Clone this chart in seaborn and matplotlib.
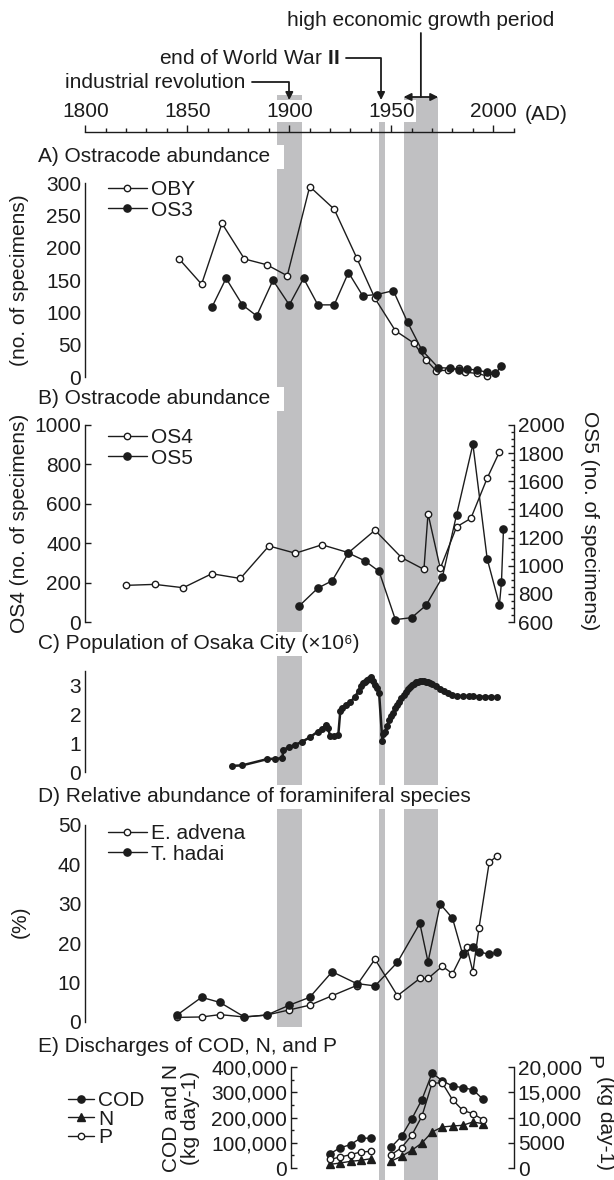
"""
Timeline of ostracode / foraminifera records vs. Osaka history
"""
import numpy as np
import pandas as pd
import matplotlib
matplotlib.use('Agg')
import matplotlib.pyplot as plt
import seaborn as sns
from matplotlib.ticker import MultipleLocator, FixedLocator

# ---- shaded periods (AD) ----
industrial = [1894, 1906]
ww2 = [1944, 1947]
growth = [1956, 1973]
ww2_end = 1945

# ---- A) Ostracode abundance ----
oby_year = [1846, 1857, 1867, 1878, 1889, 1899, 1910, 1922, 1933, 1942, 1952,
            1961, 1967, 1972, 1978, 1983, 1986, 1992, 1997, 2001]
oby_val = [183, 144, 238, 183, 174, 157, 295, 260, 185, 122, 72,
           53, 27, 10, 11, 14, 8, 6, 2, 7]
os3_year = [1862, 1869, 1877, 1884, 1892, 1900, 1907, 1914, 1922, 1929, 1936,
            1943, 1951, 1958, 1965, 1973, 1979, 1983, 1987, 1992, 1997, 2001, 2004]
os3_val = [108, 153, 112, 95, 150, 112, 153, 112, 112, 162, 126,
           128, 134, 85, 42, 15, 14, 12, 13, 11, 8, 6, 17]

# ---- B) Ostracode abundance ----
os4_year = [1820, 1834, 1848, 1862, 1876, 1890, 1903, 1916, 1929, 1942, 1955,
            1966, 1968, 1974, 1982, 1989, 1997, 2003]
os4_val = [186, 191, 174, 245, 221, 386, 349, 392, 352, 466, 327,
           267, 550, 272, 483, 526, 730, 863]
os5_year = [1905, 1914, 1921, 1929, 1937, 1944, 1952, 1960, 1967, 1975, 1982,
            1990, 1997, 2003, 2004, 2005]
os5_val = [716, 841, 893, 1090, 1035, 960, 617, 631, 718, 917, 1362,
           1863, 1049, 723, 881, 1262]

# ---- C) Population of Osaka City (x10^6) ----
pop_year = [1872, 1877, 1889, 1893, 1896.6, 1897, 1900, 1903, 1906, 1910, 1914,
            1916, 1918, 1919, 1920, 1922, 1924, 1925, 1926, 1928, 1930, 1932,
            1934, 1935, 1936, 1937, 1938, 1939, 1940, 1941, 1942, 1943, 1944,
            1945.6, 1946, 1947, 1948, 1949, 1950, 1951, 1952, 1953, 1954, 1955,
            1956, 1957, 1958, 1959, 1960, 1961, 1962, 1963, 1964, 1965, 1966,
            1967, 1968, 1969, 1970, 1972, 1974, 1976, 1978, 1980, 1982, 1985,
            1988, 1990, 1993, 1996, 1999, 2002]
pop_val = [0.22, 0.24, 0.45, 0.47, 0.48, 0.77, 0.87, 0.95, 1.04, 1.20, 1.40,
           1.50, 1.62, 1.51, 1.25, 1.25, 1.27, 2.11, 2.20, 2.30, 2.42, 2.58,
           2.80, 2.95, 3.06, 3.12, 3.18, 3.22, 3.26, 3.15, 3.00, 2.90, 2.74,
           1.09, 1.30, 1.40, 1.60, 1.80, 1.95, 2.05, 2.20, 2.30, 2.42, 2.55,
           2.65, 2.75, 2.85, 2.92, 3.00, 3.05, 3.10, 3.12, 3.14, 3.15, 3.14,
           3.12, 3.09, 3.06, 3.02, 2.95, 2.86, 2.78, 2.71, 2.66, 2.63, 2.62,
           2.63, 2.62, 2.60, 2.60, 2.60, 2.58]

# ---- D) Relative abundance of foraminiferal species (%) ----
adv_year = [1845, 1857, 1866, 1878, 1889, 1900, 1910, 1921, 1933, 1942, 1953,
            1964, 1968, 1975, 1980, 1985, 1987, 1990, 1993, 1998, 2002]
adv_val = [1.1, 1.2, 1.8, 1.2, 1.7, 3.0, 4.2, 6.6, 9.2, 15.9, 6.6,
           11.0, 11.0, 14.1, 12.2, 17.4, 19.0, 12.7, 23.9, 40.5, 42.2]
had_year = [1845, 1857, 1866, 1878, 1889, 1900, 1910, 1921, 1933, 1942, 1953,
            1964, 1968, 1974, 1980, 1985, 1990, 1993, 1998, 2002]
had_val = [1.7, 6.2, 4.9, 1.2, 1.7, 4.2, 6.2, 12.7, 9.7, 9.1, 15.1,
           25.0, 15.2, 29.9, 26.3, 17.1, 19.1, 17.8, 17.1, 17.7]

# ---- E) Discharges of COD, N and P (kg day-1) ----
dis_year = [1920, 1925, 1930, 1935, 1940, 1950, 1955, 1960, 1965, 1970,
            1975, 1980, 1985, 1990, 1995]
dis_seg = [0, 0, 0, 0, 0, 1, 1, 1, 1, 1, 1, 1, 1, 1, 1]
cod_val = [56700, 80400, 92300, 118800, 117600, 83200, 125400, 194000, 270600,
           376000, 345000, 325000, 318000, 310000, 272000]
n_val = [14500, 19800, 26400, 30400, 36800, 27700, 46300, 70000, 99000,
         142600, 162400, 166300, 169100, 182200, 175400]
p_val = [1720, 2180, 2640, 3170, 3300, 2640, 4020, 6470, 10240, 16830,
         16830, 13530, 11420, 10760, 9570]

left_ticks_e = [0, 100000, 200000, 300000, 400000]
left_labels_e = ['0', '100,000', '200,000', '300,000', '400,000']
right_ticks_e = [0, 5000, 10000, 15000, 20000]
right_labels_e = ['0', '5000', '10,000', '15,000', '20,000']

# ---- style ----
INK = '#1c1c1c'
BAND = '#c0c0c2'
FS = 15
LW = 1.0

W_PX, H_PX = 614, 1180
X0, PPY = 85.3, 2.04          # pixel of year 1800, pixels per year
YR0, YR1 = 1800, 2010

sns.set_theme(style='white')
plt.rcParams['font.family'] = ['Liberation Sans', 'DejaVu Sans']
plt.rcParams.update({
    'text.color': INK, 'axes.edgecolor': INK, 'axes.labelcolor': INK,
    'xtick.color': INK, 'ytick.color': INK, 'axes.linewidth': 1.0,
    'mathtext.fontset': 'custom', 'mathtext.rm': 'Liberation Sans',
    'mathtext.bf': 'Liberation Sans:bold',
})


def yr(px):
    return YR0 + (px - X0) / PPY


fig = plt.figure(figsize=(W_PX / 100, H_PX / 100), dpi=100)
fig.patch.set_facecolor('white')

# background axes: time axis + shaded periods, y in pixel rows
bg = fig.add_axes([X0 / W_PX, 0, (YR1 - YR0) * PPY / W_PX, 1])
bg.set_xlim(YR0, YR1)
bg.set_ylim(H_PX, 0)
bg.patch.set_visible(False)
bg.set_zorder(0)
for s in ['left', 'right', 'bottom']:
    bg.spines[s].set_visible(False)
bg.spines['top'].set_position(('data', 132))
bg.xaxis.tick_top()
bg.set_yticks([])
bg.set_xticks(range(1800, 2001, 50))
bg.xaxis.set_minor_locator(MultipleLocator(10))
bg.tick_params(axis='x', which='major', direction='out', length=5, width=1,
               labelsize=FS, pad=3)
bg.tick_params(axis='x', which='minor', direction='out', length=3, width=1)
for t in bg.get_xticklabels():
    t.set_bbox(dict(facecolor='white', edgecolor='none', pad=1))
bg.text(yr(525), 120.5, '(AD)', fontsize=FS, ha='left', va='baseline')

bg.fill_betweenx([95, 1027], industrial[0], industrial[1], color=BAND, lw=0, zorder=0)
bg.fill_betweenx([101, H_PX], ww2[0], ww2[1], color=BAND, lw=0, zorder=0)
bg.fill_betweenx([97, H_PX], growth[0], growth[1], color=BAND, lw=0, zorder=0)

akw = dict(arrowstyle='-|>', color=INK, lw=1.3, mutation_scale=11,
           shrinkA=3, shrinkB=0)
bg.annotate('industrial revolution', xy=(1900, 100), xytext=(yr(245), 82),
            ha='right', va='center', fontsize=FS,
            arrowprops=dict(connectionstyle='angle,angleA=0,angleB=90,rad=0', **akw))
bg.annotate(r'end of World War $\mathbf{II}$', xy=(ww2_end, 100), xytext=(yr(339), 58),
            ha='right', va='center', fontsize=FS,
            arrowprops=dict(connectionstyle='angle,angleA=0,angleB=90,rad=0', **akw))
mid = (growth[0] + growth[1]) / 2
bg.text(mid, 21, 'high economic growth period', ha='center', va='center', fontsize=FS)
bg.annotate('', xy=(mid, 97), xytext=(mid, 33),
            arrowprops=dict(arrowstyle='-', color=INK, lw=1.3, shrinkA=0, shrinkB=0))
bg.annotate('', xy=(growth[0], 97), xytext=(growth[1], 97),
            arrowprops=dict(arrowstyle='<|-|>', color=INK, lw=1.3, mutation_scale=11,
                            shrinkA=0, shrinkB=0))


def panel(top_px, bottom_px, x_start=YR0):
    left = (X0 + (x_start - YR0) * PPY) / W_PX
    width = (YR1 - x_start) * PPY / W_PX
    ax = fig.add_axes([left, 1 - bottom_px / H_PX, width, (bottom_px - top_px) / H_PX])
    ax.set_zorder(2)
    ax.patch.set_visible(False)
    for s in ['top', 'bottom', 'right']:
        ax.spines[s].set_visible(False)
    ax.tick_params(axis='y', which='major', direction='in', length=4.5, width=1,
                   labelsize=FS, pad=3)
    ax.tick_params(axis='y', which='minor', direction='in', length=2.5, width=1)
    return ax


def finish(ax, xlim):
    ax.set_xlim(*xlim)
    ax.set_xticks([])
    ax.set_xlabel('')
    ax.set_ylabel('')


def series(ax, x, y, filled, marker='o', ms=None, units=None, lw=LW):
    n0 = len(ax.lines)
    if ms is None:
        ms = 5.2 if filled else 4.6
    kw = dict(color=INK, lw=lw, marker=marker, markersize=ms,
              markerfacecolor=INK if filled else 'white', markeredgecolor=INK,
              markeredgewidth=1.0, clip_on=False)
    if units is None:
        sns.lineplot(x=x, y=y, ax=ax, sort=False, estimator=None, **kw)
    else:
        df = pd.DataFrame({'x': x, 'y': y, 'u': units})
        sns.lineplot(data=df, x='x', y='y', units='u', ax=ax, sort=False,
                     estimator=None, **kw)
    return ax.lines[n0]


def legend(ax, handles, labels, left_px, top_px, hl=1.85, ls=0.08):
    ax.legend(handles, labels, loc='upper left',
              bbox_to_anchor=(left_px / W_PX, 1 - top_px / H_PX),
              bbox_transform=fig.transFigure, frameon=False, fontsize=FS,
              handlelength=hl, handletextpad=0.2, labelspacing=ls,
              borderpad=0, borderaxespad=0)


def title(text, y_px):
    fig.text(38 / W_PX, 1 - y_px / H_PX, text, fontsize=FS, ha='left', va='center',
             zorder=3, bbox=dict(facecolor='white', edgecolor='none', pad=2))


def vlabel(text, x_px, y_px, rot=90):
    fig.text(x_px / W_PX, 1 - y_px / H_PX, text, fontsize=FS, rotation=rot,
             ha='center', va='center', multialignment='center', linespacing=1.0)


# ---- panel A ----
axA = panel(183.3, 377.3)
hA1 = series(axA, oby_year, oby_val, False)
hA2 = series(axA, os3_year, os3_val, True)
finish(axA, (YR0, YR1))
axA.set_ylim(0, 300)
axA.set_yticks(range(0, 301, 50))
legend(axA, [hA1, hA2], ['OBY', 'OS3'], 108, 180)
title('A) Ostracode abundance  ', 157)
vlabel('(no. of specimens)', 20, 280)

# ---- panel B ----
axB = panel(425, 622)
hB1 = series(axB, os4_year, os4_val, False)
finish(axB, (YR0, YR1))
axB.set_ylim(0, 1000)
axB.set_yticks(range(0, 1001, 200))
axB2 = axB.twinx()
axB2.patch.set_visible(False)
for s in ['top', 'bottom', 'left']:
    axB2.spines[s].set_visible(False)
hB2 = series(axB2, os5_year, os5_val, True)
finish(axB2, (YR0, YR1))
axB2.set_ylim(600, 2000)
axB2.set_yticks(range(600, 2001, 200))
axB2.yaxis.set_minor_locator(MultipleLocator(50))
axB2.tick_params(axis='y', which='major', direction='in', length=4.5, width=1,
                 labelsize=FS, pad=3)
axB2.tick_params(axis='y', which='minor', direction='in', length=2.5, width=1)
legend(axB, [hB1, hB2], ['OS4', 'OS5'], 108, 428)
title('B) Ostracode abundance  ', 399)
vlabel('OS4 (no. of specimens)', 20, 523)
vlabel('OS5 (no. of specimens)', 590, 521, rot=270)

# ---- panel C ----
axC = panel(670.5, 772.3)
series(axC, pop_year, pop_val, True, ms=4.0, lw=1.8)
finish(axC, (YR0, YR1))
axC.set_ylim(0, 3.5)
axC.set_yticks([0, 1, 2, 3])
axC.yaxis.set_minor_locator(FixedLocator([0.5, 1.5, 2.5, 3.5]))
axC.tick_params(axis='y', which='minor', length=4.5)
title('C) Population of Osaka City (\u00d710\u2076)   ', 644)

# ---- panel D ----
axD = panel(825, 1021.7)
hD1 = series(axD, adv_year, adv_val, False)
hD2 = series(axD, had_year, had_val, True)
finish(axD, (YR0, YR1))
axD.set_ylim(0, 50)
axD.set_yticks(range(0, 51, 10))
legend(axD, [hD1, hD2], ['E. advena', 'T. hadai'], 108, 824)
title('D) Relative abundance of foraminiferal species', 797)
vlabel('(%)', 20, 922)

# ---- panel E ----
E_START = 1901
axE = panel(1067, 1168, x_start=E_START)
hE1 = series(axE, dis_year, cod_val, True, units=dis_seg)
hE2 = series(axE, dis_year, n_val, True, marker='^', ms=5.8, units=dis_seg)
finish(axE, (E_START, YR1))
axE.set_ylim(0, 400000)
axE.yaxis.set_major_locator(FixedLocator(left_ticks_e))
axE.set_yticklabels(left_labels_e)
axE.yaxis.set_minor_locator(MultipleLocator(50000))
axE2 = axE.twinx()
axE2.patch.set_visible(False)
for s in ['top', 'bottom', 'left']:
    axE2.spines[s].set_visible(False)
hE3 = series(axE2, dis_year, p_val, False, units=dis_seg)
finish(axE2, (E_START, YR1))
axE2.set_ylim(0, 20000)
axE2.yaxis.set_major_locator(FixedLocator(right_ticks_e))
axE2.set_yticklabels(right_labels_e)
axE2.tick_params(axis='y', which='major', direction='in', length=4.5, width=1,
                 labelsize=FS, pad=3)
legend(axE, [hE1, hE2, hE3], ['COD', 'N', 'P'], 68, 1091, hl=1.25, ls=-0.02)
title('E) Discharges of COD, N, and P', 1047)
vlabel('COD and N\n(kg day-1)', 181, 1118)
vlabel('P', 593, 1062, rot=270)
vlabel('(kg day-1)', 606, 1123, rot=270)

fig.savefig('out.png', dpi=100, facecolor='white')
plt.close(fig)
